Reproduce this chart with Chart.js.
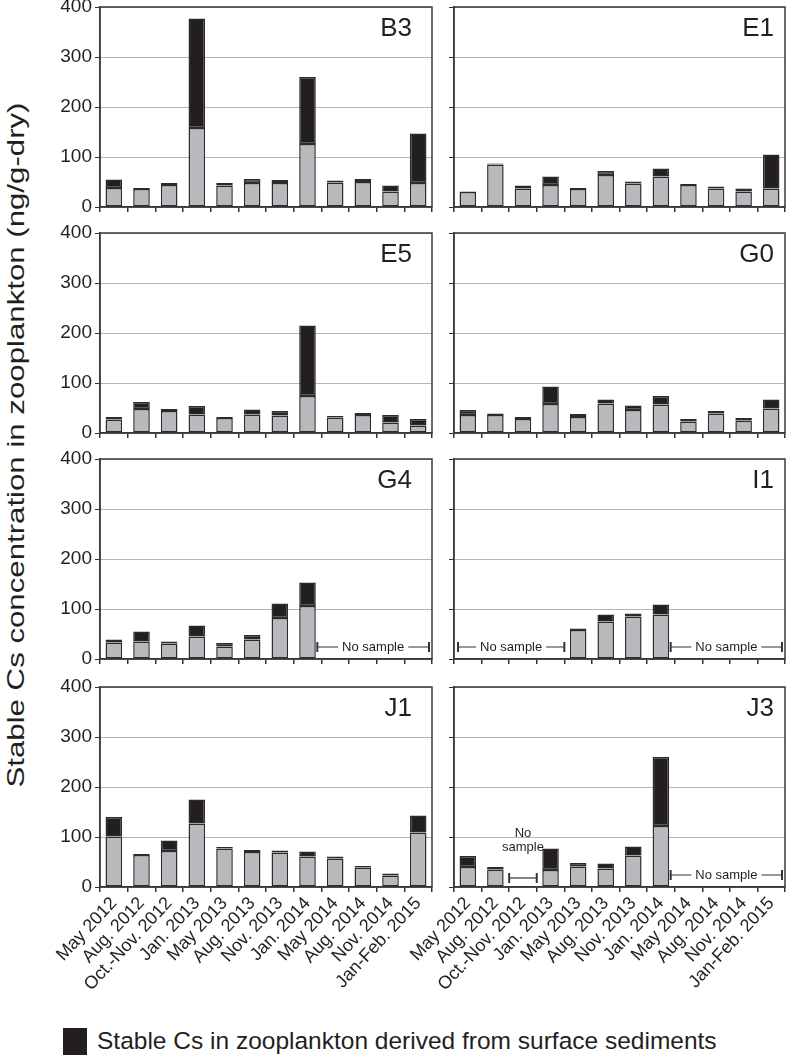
<!DOCTYPE html>
<html>
<head>
<meta charset="utf-8">
<script src="https://cdn.jsdelivr.net/npm/chart.js@4.4.1/dist/chart.umd.min.js"></script>
<style>
  body { margin: 0; background: #fff; width: 787px; height: 1060px; position: relative; overflow: hidden;
         font-family: "Liberation Sans", Arial, sans-serif; color: #231f20; }
  canvas { position: absolute; }
  #ytitle { position: absolute; left: 16px; top: 445px; transform: translate(-50%, -50%) rotate(-90deg) scaleX(1.3);
            white-space: nowrap; font-size: 24px; }
  #legend { position: absolute; left: 63px; top: 1027px; font-size: 24.5px; display: flex; align-items: center; }
  #legend .box { width: 24px; height: 27px; background: #231f20; margin-right: 10px; }
</style>
</head>
<body>
<div id="ytitle">Stable Cs concentration in zooplankton (ng/g-dry)</div>
<div id="legend"><span class="box"></span>Stable Cs in zooplankton derived from surface sediments</div>

<canvas id="B3"></canvas>
<canvas id="E1"></canvas>
<canvas id="E5"></canvas>
<canvas id="G0"></canvas>
<canvas id="G4"></canvas>
<canvas id="I1"></canvas>
<canvas id="J1"></canvas>
<canvas id="J3"></canvas>

<script>
const months = ["May 2012", "Aug. 2012", "Oct.-Nov. 2012", "Jan. 2013", "May 2013", "Aug. 2013",
  "Nov. 2013", "Jan. 2014", "May 2014", "Aug. 2014", "Nov. 2014", "Jan-Feb. 2015"];
const yTicks = [0, 100, 200, 300, 400];

// grey = other part, sed = derived from surface sediments (black, stacked on top)
const b3Grey = [38, 36, 44, 158, 43, 48, 48, 126, 49, 50, 31, 48];
const b3Sed  = [17, 2, 4, 219, 5, 8, 6, 134, 4, 6, 12, 99];
const e1Grey = [30, 85, 37, 44, 36, 64, 47, 61, 44, 37, 31, 37];
const e1Sed  = [1, 2, 6, 17, 2, 8, 4, 16, 2, 4, 6, 68];
const e5Grey = [27, 48, 44, 37, 30, 37, 35, 74, 31, 36, 21, 15];
const e5Sed  = [5, 14, 4, 17, 2, 10, 9, 141, 3, 4, 15, 13];
const g0Grey = [36, 36, 28, 58, 32, 59, 46, 57, 23, 39, 25, 49];
const g0Sed  = [10, 3, 4, 35, 6, 8, 9, 17, 5, 5, 5, 18];
const g4Grey = [33, 35, 31, 45, 25, 39, 82, 106, null, null, null, null];
const g4Sed  = [6, 20, 4, 22, 7, 9, 29, 47, null, null, null, null];
const i1Grey = [null, null, null, null, 58, 75, 85, 89, null, null, null, null];
const i1Sed  = [null, null, null, null, 3, 14, 6, 20, null, null, null, null];
const j1Grey = [101, 64, 72, 127, 77, 70, 69, 61, 57, 39, 23, 109];
const j1Sed  = [39, 2, 21, 48, 3, 4, 4, 10, 4, 3, 4, 34];
const j3Grey = [40, 35, null, 34, 41, 37, 63, 122, null, null, null, null];
const j3Sed  = [22, 5, null, 43, 7, 10, 18, 138, null, null, null, null];

// category index ranges with no sample
const g4NoSample = [[8, 11]];
const i1NoSample = [[0, 3], [8, 11]];
const j3NoSample = [[2, 2], [8, 11]];

const FONT = "'Liberation Sans', Arial, sans-serif";
const INK = "#231f20";

const boxPlugin = {
  id: "box",
  afterDraw(chart, args, opts) {
    const { ctx, chartArea: a } = chart;
    ctx.save();
    ctx.strokeStyle = "#3a3a3a";
    ctx.lineWidth = 1.5;
    ctx.strokeRect(a.left, a.top, a.right - a.left, a.bottom - a.top);
    ctx.fillStyle = INK;
    ctx.font = "26px " + FONT;
    ctx.textAlign = "right";
    ctx.textBaseline = "alphabetic";
    ctx.fillText(opts.text, a.right - opts.inset, a.top + 29);
    ctx.restore();
  }
};

const noSamplePlugin = {
  id: "noSample",
  afterDatasetsDraw(chart, args, opts) {
    const ranges = opts.ranges || [];
    if (!ranges.length) return;
    const { ctx, chartArea: a } = chart;
    const x = chart.scales.x, y = chart.scales.y;
    const half = (x.getPixelForValue(1) - x.getPixelForValue(0)) / 2;
    const yy = y.getPixelForValue(0) - 12;
    ctx.save();
    ctx.strokeStyle = "#333";
    ctx.fillStyle = INK;
    ctx.font = "13px " + FONT;
    ctx.textBaseline = "middle";
    ctx.textAlign = "center";
    ranges.forEach(([s, e]) => {
      let x1 = x.getPixelForValue(s) - half;
      let x2 = x.getPixelForValue(e) + half;
      if (s > 0 && e > s) x1 -= 4;
      x1 = Math.max(x1, a.left + 4);
      x2 = Math.min(x2, a.right - 3);
      const mid = (x1 + x2) / 2;
      ctx.lineWidth = 1.2;
      ctx.beginPath();
      if (e > s) {
        const w = ctx.measureText("No sample").width;
        ctx.moveTo(x1, yy); ctx.lineTo(mid - w / 2 - 4, yy);
        ctx.moveTo(mid + w / 2 + 4, yy); ctx.lineTo(x2, yy);
        ctx.fillText("No sample", mid, yy);
      } else {
        ctx.moveTo(x1, yy + 3); ctx.lineTo(x2, yy + 3);
        ctx.fillText("No", mid, yy - 42);
        ctx.fillText("sample", mid, yy - 28);
      }
      ctx.stroke();
      ctx.lineWidth = 2;
      ctx.beginPath();
      const cy = e > s ? yy : yy + 3;
      ctx.moveTo(x1, cy - 5); ctx.lineTo(x1, cy + 5);
      ctx.moveTo(x2, cy - 5); ctx.lineTo(x2, cy + 5);
      ctx.stroke();
    });
    ctx.restore();
  }
};

const plotTops = [7, 233, 459, 687];

function makePanel(id, grey, sed, col, row, ranges) {
  const left = col === 0;
  const bottom = row === 3;
  const cv = document.getElementById(id);
  const w = left ? 410 : 407;
  const h = bottom ? 320 : 218;
  cv.width = w; cv.height = h;
  cv.style.left = (left ? 30 : 380) + "px";
  cv.style.top = (plotTops[row] - 10) + "px";
  cv.style.width = w + "px"; cv.style.height = h + "px";

  new Chart(cv, {
    type: "bar",
    data: {
      labels: months,
      datasets: [
        { label: "other", data: grey, backgroundColor: "#b7b9bc", borderColor: "#2b2b2b",
          borderWidth: 1.5, borderSkipped: false, barPercentage: 0.6, categoryPercentage: 1 },
        { label: "sediment", data: sed, backgroundColor: INK, borderColor: "#2b2b2b",
          borderWidth: 1.5, borderSkipped: false, barPercentage: 0.6, categoryPercentage: 1 }
      ]
    },
    options: {
      responsive: false,
      animation: false,
      devicePixelRatio: 1,
      layout: { padding: { top: 10, right: left ? 8 : 2, bottom: bottom ? 0 : 3, left: 0 } },
      plugins: {
        legend: { display: false },
        tooltip: { enabled: false },
        box: { text: id, inset: left ? 20 : 11 },
        noSample: { ranges: ranges || [] }
      },
      scales: {
        x: {
          stacked: true,
          offset: true,
          grid: { offset: true, drawOnChartArea: false, drawTicks: true, tickLength: 5,
                  tickColor: "#333", lineWidth: 1.5 },
          border: { display: true, color: "#3a3a3a", width: 1.5 },
          ticks: {
            display: bottom, autoSkip: false, maxRotation: 47, minRotation: 47,
            font: { family: FONT, size: 18 }, color: INK, padding: 1
          },
          afterFit(scale) {
            scale.height = bottom ? 110 : 5;
            scale.paddingLeft = 0; scale.paddingRight = 0;
          }
        },
        y: {
          stacked: true,
          min: yTicks[0],
          max: yTicks[yTicks.length - 1],
          afterBuildTicks(scale) { scale.ticks = yTicks.map(v => ({ value: v })); },
          grid: { color: "#b5b5b5", lineWidth: 1, tickColor: "#333", tickLength: 5, drawTicks: true },
          border: { display: true, color: "#3a3a3a", width: 1.5 },
          ticks: { display: left, font: { family: FONT, size: 19 }, color: INK, padding: 3 },
          afterFit(scale) {
            scale.width = 70 + (left ? 0 : 4);
            scale.paddingTop = 0; scale.paddingBottom = 0;
          }
        }
      }
    },
    plugins: [boxPlugin, noSamplePlugin]
  });
}

makePanel("B3", b3Grey, b3Sed, 0, 0);
makePanel("E1", e1Grey, e1Sed, 1, 0);
makePanel("E5", e5Grey, e5Sed, 0, 1);
makePanel("G0", g0Grey, g0Sed, 1, 1);
makePanel("G4", g4Grey, g4Sed, 0, 2, g4NoSample);
makePanel("I1", i1Grey, i1Sed, 1, 2, i1NoSample);
makePanel("J1", j1Grey, j1Sed, 0, 3);
makePanel("J3", j3Grey, j3Sed, 1, 3, j3NoSample);
</script>
</body>
</html>
